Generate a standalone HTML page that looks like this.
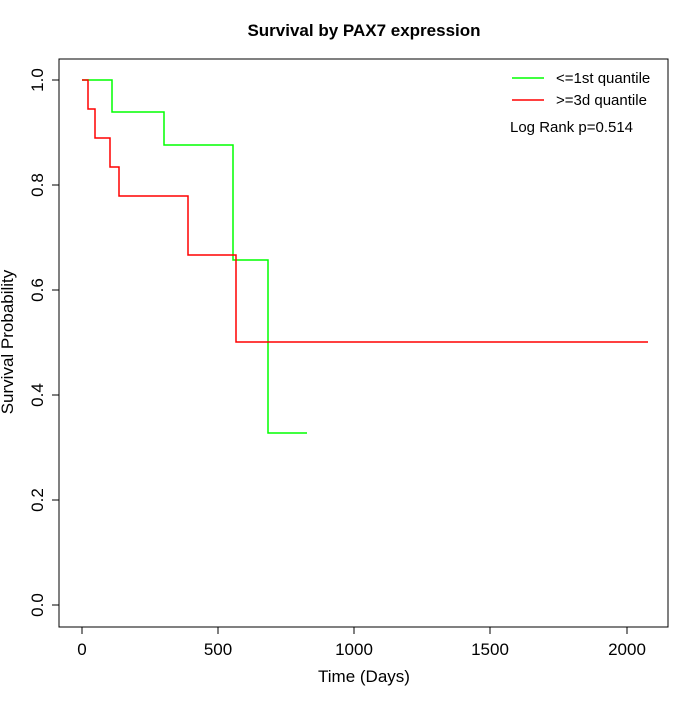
<!DOCTYPE html>
<html><head><meta charset="utf-8"><style>body{margin:0;background:#fff}</style></head><body>
<svg width="700" height="700" xmlns="http://www.w3.org/2000/svg" font-family="Liberation Sans, sans-serif">
<rect width="700" height="700" fill="#fff"/>
<text x="364" y="36" font-size="17" font-weight="bold" text-anchor="middle">Survival by PAX7 expression</text>
<rect x="59" y="59" width="609" height="568" fill="none" stroke="#000" stroke-width="1"/>
<g stroke="#000" fill="none">
<path d="M82,627v7M218,627v7M354,627v7M490,627v7M627,627v7"/>
<path d="M59,80h-7M59,185h-7M59,290h-7M59,395h-7M59,500h-7M59,605h-7"/>
</g>
<g font-size="17" text-anchor="middle">
<text x="82" y="655">0</text><text x="218" y="655">500</text><text x="354" y="655">1000</text><text x="490" y="655">1500</text><text x="627" y="655">2000</text>
<text x="364" y="682">Time (Days)</text>
</g>
<g font-size="17" text-anchor="middle">
<text transform="translate(43,80) rotate(-90)">1.0</text>
<text transform="translate(43,185) rotate(-90)">0.8</text>
<text transform="translate(43,290) rotate(-90)">0.6</text>
<text transform="translate(43,395) rotate(-90)">0.4</text>
<text transform="translate(43,500) rotate(-90)">0.2</text>
<text transform="translate(43,605) rotate(-90)">0.0</text>
<text transform="translate(13,342) rotate(-90)">Survival Probability</text>
</g>
<path d="M82,80H112V112H164V145H233V260H268V433H307" fill="none" stroke="#00ff00" stroke-width="1.5"/>
<path d="M82,80H88V109H95V138H110V167H119V196H188V255H236V342H648" fill="none" stroke="#ff0000" stroke-width="1.5"/>
<path d="M512,78h32" stroke="#00ff00" stroke-width="1.5"/>
<path d="M512,100h32" stroke="#ff0000" stroke-width="1.5"/>
<g font-size="15">
<text x="556" y="83">&lt;=1st quantile</text>
<text x="556" y="105">&gt;=3d quantile</text>
<text x="510" y="132">Log Rank p=0.514</text>
</g>
</svg>
</body></html>
